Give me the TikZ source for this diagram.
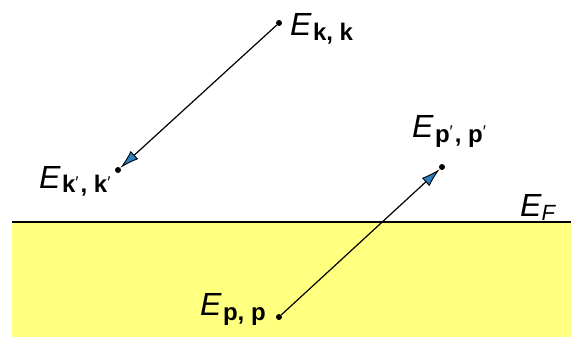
\documentclass[tikz,border=0pt]{standalone}
\usepackage{fontspec}
\setmainfont{Liberation Sans}
\usetikzlibrary{arrows.meta}
\definecolor{fillyellow}{HTML}{FFFF80}
\definecolor{tipblue}{HTML}{2A7FC0}
\newcommand{\elabel}[1]{{\fontsize{32}{32}\selectfont\itshape E}\hspace{1.5pt}\raisebox{-5pt}{\fontsize{24}{24}\selectfont\bfseries #1}}
\newcommand{\prm}{\raisebox{5pt}{\fontsize{17}{17}\selectfont\normalfont ′}\hspace{2pt}}
\begin{document}
\begin{tikzpicture}[x=1pt,y=-1pt,
  lbl/.style={anchor=base west,inner sep=0pt},
  dotnode/.style={circle,fill=black,inner sep=0pt,minimum size=6pt},
  trans/.style={line width=1.2pt,-{Latex[length=19pt,width=11pt,fill=tipblue,line width=0.9pt]}}]
\useasboundingbox (0,0) rectangle (571,337);
\fill[fillyellow] (12,222) rectangle (571,337);
\draw[line width=2pt] (12,222) -- (571,222);
\node[dotnode] (k) at (279,23) {};
\node[dotnode] (kp) at (118,170) {};
\node[dotnode] (p) at (279,317) {};
\node[dotnode] (pp) at (442,167) {};
\draw[trans] (k) -- (kp);
\draw[trans] (p) -- (pp);
\node[lbl] (lk) at (290,36) {\elabel{k, k}};
\node[lbl] (lkp) at (39,188) {\elabel{k\prm, k\prm}};
\node[lbl] (lpp) at (412,138) {\elabel{p\prm, p\prm}};
\node[lbl] (lp) at (200,315) {\elabel{p, p}};
\node[lbl] (lf) at (520,216) {{\fontsize{32}{32}\selectfont\itshape E}\raisebox{-4pt}{\fontsize{22}{22}\selectfont\itshape F}};
\end{tikzpicture}
\end{document}
